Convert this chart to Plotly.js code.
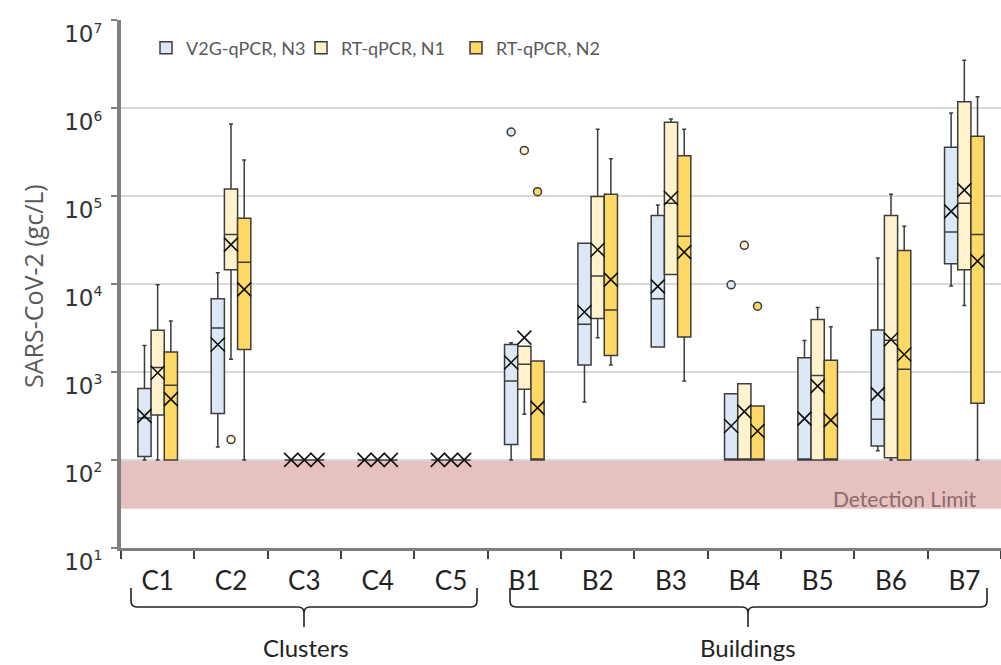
<!DOCTYPE html>
<html>
<head>
<meta charset="utf-8">
<script src="https://cdn.plot.ly/plotly-3.0.1.min.js"></script>
<style>html,body{margin:0;padding:0;background:#fff;}#chart{width:1001px;height:665px;}</style>
</head>
<body>
<div id="chart"></div>
<script>
// ---- data (gc/L) ----
const categories = ['C1','C2','C3','C4','C5','B1','B2','B3','B4','B5','B6','B7'];
const seriesNames = ['V2G-qPCR, N3','RT-qPCR, N1','RT-qPCR, N2'];

const n3Q1     = [109, 336, 100, 100, 100, 150, 1200, 1920, 100, 100, 144, 17000];
const n3Median = [300, 3170, 100, 100, 100, 790, 3480, 6800, 100, 100, 290, 39000];
const n3Q3     = [650, 6800, 100, 100, 100, 2050, 29000, 60000, 565, 1450, 3000, 360000];
const n3Lower  = [100, 140, 100, 100, 100, 100, 455, 1920, 100, 100, 127, 9500];
const n3Upper  = [2000, 13400, 100, 100, 100, 2150, 29000, 79000, 565, 2280, 19800, 880000];
const n3Mean   = [316, 2050, 100, 100, 100, 1280, 4800, 9400, 243, 295, 560, 67000];
const n3OutCat = ['B1','B4'];
const n3OutVal = [535000, 9800];

const n1Q1     = [324, 14500, 100, 100, 100, 635, 4050, 12800, 100, 100, 106, 14500];
const n1Median = [1120, 36500, 100, 100, 100, 1220, 12300, 83000, 100, 910, 2300, 83000];
const n1Q3     = [2970, 120000, 100, 100, 100, 1960, 99000, 690000, 735, 3960, 60000, 1180000];
const n1Lower  = [100, 1390, 100, 100, 100, 330, 2450, 12800, 100, 100, 100, 5700];
const n1Upper  = [9800, 660000, 100, 100, 100, 1960, 576000, 750000, 735, 5400, 105000, 3500000];
const n1Mean   = [980, 28000, 100, 100, 100, 2460, 24500, 95000, 354, 690, 2340, 117000];
const n1OutCat = ['C2','B1','B4'];
const n1OutVal = [170, 330000, 27500];

const n2Q1     = [100, 1800, 100, 100, 100, 100, 1540, 2500, 100, 100, 100, 440];
const n2Median = [705, 17700, 100, 100, 100, 100, 5050, 35000, 100, 100, 1070, 36500];
const n2Q3     = [1690, 56000, 100, 100, 100, 1330, 105000, 287000, 410, 1360, 24000, 480000];
const n2Lower  = [100, 100, 100, 100, 100, 100, 1200, 790, 100, 100, 100, 100];
const n2Upper  = [3800, 257000, 100, 100, 100, 1330, 265000, 576000, 410, 3260, 45500, 1350000];
const n2Mean   = [490, 8700, 100, 100, 100, 390, 11200, 23000, 213, 283, 1580, 18200];
const n2OutCat = ['B1','B4'];
const n2OutVal = [112000, 5600];

const detectionLow = 28, detectionHigh = 100;
const groupLabels = ['Clusters','Buildings'];
const yTickVals = [1e1, 1e2, 1e3, 1e4, 1e5, 1e6, 1e7];
const yTickExp  = ['1','2','3','4','5','6','7'];

// ---- styling ----
const fills = ['#dce8f5','#fff2cc','#ffd966'];
const edge = '#3c3c3c';
const series = [
  {q1:n3Q1, med:n3Median, q3:n3Q3, lo:n3Lower, hi:n3Upper, mean:n3Mean, oc:n3OutCat, ov:n3OutVal},
  {q1:n1Q1, med:n1Median, q3:n1Q3, lo:n1Lower, hi:n1Upper, mean:n1Mean, oc:n1OutCat, ov:n1OutVal},
  {q1:n2Q1, med:n2Median, q3:n2Q3, lo:n2Lower, hi:n2Upper, mean:n2Mean, oc:n2OutCat, ov:n2OutVal}
];

const traces = [];
series.forEach((s, i) => {
  traces.push({
    type: 'box', name: seriesNames[i], x: categories,
    q1: s.q1, median: s.med, q3: s.q3, lowerfence: s.lo, upperfence: s.hi,
    fillcolor: fills[i], line: {color: edge, width: 1.5},
    whiskerwidth: 0.3, boxpoints: false, offsetgroup: 'g' + i, hoverinfo: 'skip'
  });
});
series.forEach((s, i) => {
  traces.push({
    type: 'scatter', mode: 'markers', x: categories, y: s.mean, offsetgroup: 'g' + i,
    showlegend: false, hoverinfo: 'skip',
    marker: {symbol: 'x-thin-open', size: 14, color: '#111', line: {color: '#111', width: 1.6}}
  });
  traces.push({
    type: 'scatter', mode: 'markers', x: s.oc, y: s.ov, offsetgroup: 'g' + i,
    showlegend: false, hoverinfo: 'skip',
    marker: {symbol: 'circle', size: 8, color: fills[i], line: {color: edge, width: 1.5}}
  });
});

// pixel helpers for decorations (plot area: x 121..1001, y 20..548)
const L = 121, T = 20, W = 880, H = 528;
const px = x => (x - L) / W;
const py = y => (T + H - y) / H;
function bracePath(x0, x1, xm, yTop, yBar, yTip) {
  const r = 6;
  const P = (x, y) => px(x).toFixed(5) + ',' + py(y).toFixed(5);
  return 'M' + P(x0, yTop) + ' L' + P(x0, yBar - r) + ' Q' + P(x0, yBar) + ' ' + P(x0 + r, yBar) +
         ' L' + P(xm - r, yBar) + ' Q' + P(xm, yBar) + ' ' + P(xm, yBar + r) +
         ' L' + P(xm, yTip) + ' M' + P(xm, yBar + r) + ' Q' + P(xm, yBar) + ' ' + P(xm + r, yBar) +
         ' L' + P(x1 - r, yBar) + ' Q' + P(x1, yBar) + ' ' + P(x1, yBar - r) + ' L' + P(x1, yTop);
}
const yMin = 1, yMax = 7, pad = 0.002;
const logPaper = v => (Math.log10(v) - yMin) / (yMax - yMin);
const labelFont = 'Lato, "Open Sans", sans-serif';

const layout = {
  width: 1001, height: 665,
  margin: {l: L, r: 0, t: T, b: 665 - T - H},
  paper_bgcolor: '#fff', plot_bgcolor: '#fff',
  boxmode: 'group', boxgap: 0.46, boxgroupgap: 0,
  scattermode: 'group', scattergap: 0.46,
  showlegend: true,
  legend: {orientation: 'h', x: px(146), y: py(48), xanchor: 'left', yanchor: 'middle',
           bgcolor: 'rgba(0,0,0,0)', font: {family: labelFont, size: 18, color: '#595959'},
           entrywidth: 110, itemwidth: 30, traceorder: 'normal'},
  xaxis: {type: 'category', categoryorder: 'array', categoryarray: categories,
          tickson: 'boundaries', ticks: 'outside', ticklen: 8, tickwidth: 2, tickcolor: '#404040',
          showline: true, linecolor: '#7f7f7f', linewidth: 3, showgrid: false, zeroline: false,
          tickfont: {family: labelFont, size: 26, color: '#222'},
          ticklabelstandoff: 8, fixedrange: true},
  yaxis: {type: 'log', range: [yMin - pad, yMax + pad],
          tickvals: yTickVals,
          ticktext: yTickExp.map(e => '10<sup><span style="font-size:14px">' + e + '</span></sup>'),
          ticks: 'outside', ticklen: 6, tickwidth: 2, tickcolor: '#7f7f7f',
          showline: true, linecolor: '#7f7f7f', linewidth: 4,
          showgrid: true, gridcolor: '#d9d9d9', gridwidth: 1.5, zeroline: false,
          tickfont: {family: '"DejaVu Sans", "Liberation Sans", sans-serif', size: 23, color: '#333'},
          ticklabelshift: 14, ticklabelstandoff: 4, fixedrange: true},
  shapes: [
    {type: 'rect', xref: 'paper', yref: 'paper', x0: 0, x1: 1, y0: logPaper(detectionLow), y1: logPaper(detectionHigh),
     fillcolor: '#e7c0c0', line: {width: 0}, layer: 'below'},
    {type: 'path', xref: 'paper', yref: 'paper', path: bracePath(131, 477, 304, 588, 607, 627),
     line: {color: '#222', width: 1.6}},
    {type: 'path', xref: 'paper', yref: 'paper', path: bracePath(510, 987, 748, 588, 607, 627),
     line: {color: '#222', width: 1.6}}
  ],
  annotations: [
    {xref: 'paper', yref: 'paper', x: px(33), y: py(286), xanchor: 'center', yanchor: 'middle',
     text: 'SARS-CoV-2 (gc/L)', textangle: -90,
     showarrow: false, font: {family: '"Open Sans", "Noto Sans", sans-serif', size: 25, color: '#595959'}},
    {xref: 'paper', yref: 'paper', x: px(979), y: py(498), xanchor: 'right', yanchor: 'middle',
     text: 'Detection Limit', showarrow: false,
     font: {family: labelFont, size: 21, color: '#8b6b6b'}},
    {xref: 'paper', yref: 'paper', x: px(306), y: py(647), xanchor: 'center', yanchor: 'middle',
     text: groupLabels[0], showarrow: false,
     font: {family: labelFont, size: 24, color: '#222'}},
    {xref: 'paper', yref: 'paper', x: px(748), y: py(647), xanchor: 'center', yanchor: 'middle',
     text: groupLabels[1], showarrow: false,
     font: {family: labelFont, size: 24, color: '#222'}}
  ]
};

Plotly.newPlot('chart', traces, layout, {displayModeBar: false, staticPlot: true});
</script>
</body>
</html>
